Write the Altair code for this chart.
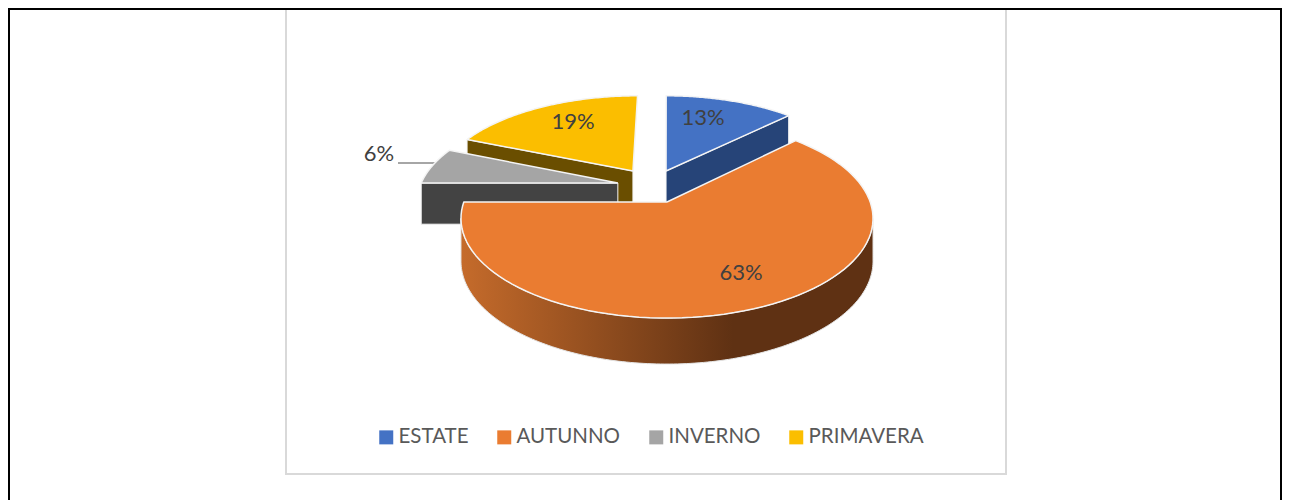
import numpy as np
import pandas as pd
import altair as alt

# ---- chart values ----
SEASONS = ["ESTATE", "AUTUNNO", "INVERNO", "PRIMAVERA"]
SHARES = [12.5, 62.5, 6.25, 18.75]
LABELS = ["13%", "63%", "6%", "19%"]

# ---- colours ----
TOP = ["#4472C4", "#EA7C31", "#A5A5A5", "#FBBE00"]
SIDE = ["#264478", None, "#434343", "#6A4E00"]

# ---- pie geometry (image pixels) ----
CX, CY = 667, 202          # apex of the non-exploded slice
A, B, K = 96.9, 203.2, 0.165   # perspective of the pie's disc
EXPLODE = [(-0.005, 0.338), (0.0, 0.0), (-0.25, 0.2026), (-0.177, 0.338)]  # disc units
LABEL_X = [703, 741, 379, 573]
LABEL_Y = [118, 273, 154, 122]
X_DOM, Y_DOM = [8, 1282], [8, 500]


def project(wx, wy):
    d = 1 + K * wy
    return CX + B * wx / d, CY - A * wy / d


def depth(wy):
    return 42 - 4 * wy


edges = np.cumsum([0] + SHARES) / 100 * 2 * np.pi


def rim(i, t0=None, t1=None, n=90):
    t0 = edges[i] if t0 is None else t0
    t1 = edges[i + 1] if t1 is None else t1
    t = np.linspace(t0, t1, n)
    ex, ey = EXPLODE[i]
    return ex + np.sin(t), ey + np.cos(t)


def frame(wx, wy, dy=None, season=None):
    px, py = project(np.asarray(wx, float), np.asarray(wy, float))
    if dy is not None:
        py = py + dy
    df = pd.DataFrame({"x": px, "y": py})
    df["o"] = range(len(df))
    if season:
        df["season"] = season
    return df


def poly(df, **kw):
    return alt.Chart(df).mark_line(strokeJoin="round", clip=False, **kw).encode(
        x=alt.X("x:Q", scale=alt.Scale(domain=X_DOM), axis=None),
        y=alt.Y("y:Q", scale=alt.Scale(domain=Y_DOM[::-1]), axis=None),
        order="o:Q",
    )


def top_face(i):
    rx, ry = rim(i)
    ex, ey = EXPLODE[i]
    wx = np.r_[ex, rx, ex]
    wy = np.r_[ey, ry, ey]
    df = frame(wx, wy, season=SEASONS[i])
    return poly(df, stroke="#F4F4F4", strokeWidth=1.5).encode(
        fill=alt.Fill(
            "season:N",
            scale=alt.Scale(domain=SEASONS, range=TOP),
            sort=SEASONS,
            legend=alt.Legend(
                orient="none", direction="horizontal", columns=4, title=None,
                legendX=368, legendY=419,
                symbolType="square", symbolSize=196, symbolStrokeWidth=0,
                symbolOpacity=1, labelFont="Lato", labelFontSize=20.5,
                labelColor="#595959", labelOffset=2, columnPadding=25,
                padding=0, labelLimit=200,
            ),
        )
    )


def cut_side(i, t):
    """Flat cut face of a slice, between its apex and the rim at angle t."""
    ex, ey = EXPLODE[i]
    wx = np.array([ex, ex + np.sin(t)])
    wy = np.array([ey, ey + np.cos(t)])
    a = frame(wx, wy)
    b = frame(wx[::-1], wy[::-1], dy=depth(wy[::-1]))
    df = pd.concat([a, b, a.iloc[:1]], ignore_index=True)
    df["o"] = range(len(df))
    return poly(df, fill=SIDE[i], stroke="#F4F4F4", strokeWidth=1)


# Orange outer wall with a horizontal gradient
t_ext = np.arccos(-K)
rx, ry = rim(1, t_ext, 2 * np.pi - t_ext, 160)
upper = frame(rx, ry)
lower = frame(rx[::-1], ry[::-1], dy=depth(ry[::-1]))
wall = pd.concat([upper, lower, upper.iloc[:1]], ignore_index=True)
wall["o"] = range(len(wall))
wall_layer = poly(
    wall,
    stroke="#E4E4E4",
    strokeWidth=1,
    fill=alt.Gradient(
        gradient="linear", x1=0, x2=1, y1=0, y2=0,
        stops=[
            alt.GradientStop(offset=0, color="#C56B2B"),
            alt.GradientStop(offset=0.66, color="#5F3113"),
            alt.GradientStop(offset=1, color="#5F3113"),
        ],
    ),
)

# Frames
xs = alt.X("x:Q", scale=alt.Scale(domain=X_DOM), axis=None)
ys = alt.Y("y:Q", scale=alt.Scale(domain=Y_DOM[::-1]), axis=None)
box = alt.Chart(pd.DataFrame({"x": [286], "x2": [1006], "y": [9], "y2": [474]})).mark_rect(
    fill="white", stroke="#D9D9D9", strokeWidth=2
).encode(x=xs, x2="x2:Q", y=ys, y2="y2:Q")
outer_top = alt.Chart(pd.DataFrame({"x": [8], "x2": [1282], "y": [9]})).mark_rule(
    color="black", strokeWidth=2
).encode(x=xs, x2="x2:Q", y=ys)
outer_left = alt.Chart(pd.DataFrame({"x": [9], "y": [9], "y2": [500]})).mark_rule(
    color="black", strokeWidth=2
).encode(x=xs, y=ys, y2="y2:Q")
outer_right = alt.Chart(pd.DataFrame({"x": [1281], "y": [9], "y2": [500]})).mark_rule(
    color="black", strokeWidth=2
).encode(x=xs, y=ys, y2="y2:Q")

leader = alt.Chart(pd.DataFrame({"x": [398, 438], "y": [163, 163]})).mark_line(
    color="#A6A6A6", strokeWidth=2
).encode(x=xs, y=ys)

labels = alt.Chart(pd.DataFrame({"x": LABEL_X, "y": LABEL_Y, "t": LABELS})).mark_text(
    font="Lato", fontSize=22, color="#404040", align="center", baseline="middle"
).encode(x=xs, y=ys, text="t:N")

layers = [
    box,
    outer_top, outer_left, outer_right,
    cut_side(3, edges[3]), top_face(3),
    cut_side(0, edges[1]), top_face(0),
    cut_side(2, edges[2]), leader, top_face(2),
    wall_layer, top_face(1),
    labels,
]

chart = (
    alt.layer(*layers)
    .properties(width=1274, height=492, padding=0, autosize=alt.AutoSizeParams(type="none"),
                background="white")
    .configure_view(stroke=None)
)

chart.save("out.html", embed_options={"renderer": "svg", "actions": False})
